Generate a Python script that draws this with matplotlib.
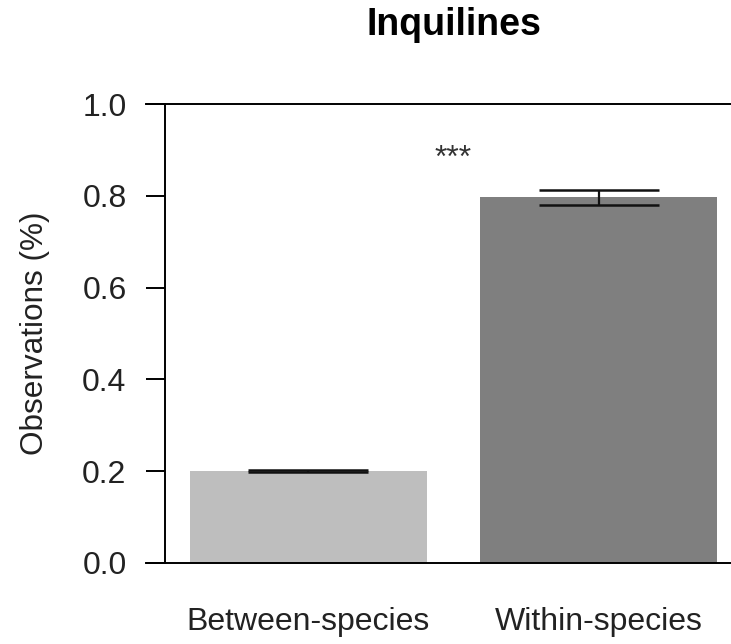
import matplotlib.pyplot as plt

plt.rcParams["font.family"] = ["Liberation Sans", "DejaVu Sans"]

groups = ["Between-species", "Within-species"]
means = [0.201, 0.797]
errors = [0.002, 0.016]
colors = ["#bebebe", "#7f7f7f"]
positions = [0.7, 1.9]
signif = "***"

fig = plt.figure(figsize=(7.31, 6.44), dpi=100)
ax = fig.add_axes([165 / 731, 81 / 644, 566 / 731, 459 / 644])

ax.bar(positions, means, width=0.98, color=colors, edgecolor="none", zorder=1)
ax.errorbar(positions, means, yerr=errors, fmt="none", ecolor="#111111",
            elinewidth=1.6, capsize=43, capthick=1.8, zorder=2)

# significance stars
ax.text(1.298, 0.862, signif, ha="center", va="baseline", fontsize=23, color="#333333")

ax.set_xlim(0.107, 2.446)
ax.set_ylim(0, 1)

for side in ["top", "right", "bottom"]:
    ax.spines[side].set_visible(False)
ax.spines["left"].set_linewidth(1.4)
for yv in [0, 1]:
    ax.axhline(yv, xmin=-0.0336, xmax=1, color="black", lw=1.4, clip_on=False)

ax.set_yticks([0, 0.2, 0.4, 0.6, 0.8, 1.0])
ax.set_yticklabels(["0.0", "0.2", "0.4", "0.6", "0.8", "1.0"])
ax.tick_params(axis="y", direction="out", length=13.7, width=1.4, pad=14, labelsize=23,
               labelcolor="#222222")
ax.set_xticks(positions)
ax.set_xticklabels(groups)
ax.tick_params(axis="x", length=0, pad=32, labelsize=23, labelcolor="#222222")

ax.set_ylabel("Observations (%)", fontsize=22.7, color="#222222", labelpad=23)
fig.text(454 / 731, 1 - 25 / 644, "Inquilines", ha="center", va="center",
         fontsize=27, fontweight="bold")

fig.savefig("out.png", dpi=100)
